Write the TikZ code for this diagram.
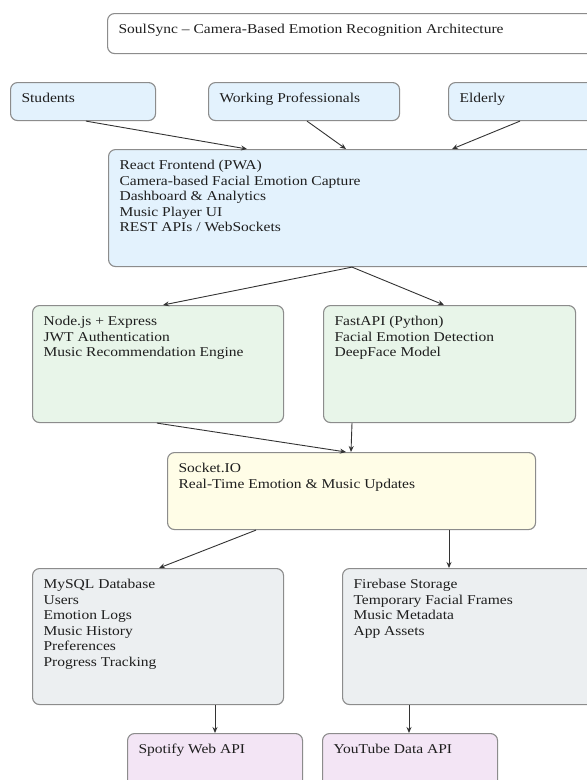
\documentclass[tikz,border=0pt]{standalone}
\usepackage{fontspec}
\setmainfont{Liberation Serif}[FakeStretch=1.15]
\usetikzlibrary{arrows.meta}
\definecolor{cblue}{HTML}{E3F2FD}
\definecolor{cgreen}{HTML}{E8F5E9}
\definecolor{cyellow}{HTML}{FFFDE7}
\definecolor{cgray}{HTML}{ECEFF1}
\definecolor{cpink}{HTML}{F3E5F5}
\definecolor{cborder}{HTML}{8C8C8C}
\definecolor{cedge}{HTML}{333333}
\definecolor{ctext}{HTML}{1E1E1E}
\newcommand{\boxtext}[3]{\parbox[c][#2pt][t]{\dimexpr #1pt-22pt\relax}{\raggedright\vspace*{9pt}\strut #3}}
\tikzset{
  box/.style={draw=cborder, line width=1.1pt, rounded corners=7pt, inner xsep=11pt, inner ysep=0pt, anchor=north west, text=ctext, font=\fontsize{13.5}{15.6}\selectfont},
  arr/.style={draw=cedge, line width=0.9pt, -{Stealth[length=6pt,width=5pt]}}
}
\begin{document}
\begin{tikzpicture}[x=1pt,y=-1pt]
\useasboundingbox (0,0) rectangle (587,780);
\clip (0,0) rectangle (587,780);
\fill[white] (0,0) rectangle (587,780);
\node[box, fill=white] (title) at (107,13) {\boxtext{503}{40}{SoulSync -- Camera-Based Emotion Recognition Architecture}};
\node[box, fill=cblue] (students) at (10,82) {\boxtext{145}{38}{Students}};
\node[box, fill=cblue] (wp) at (208,82) {\boxtext{191}{38}{Working Professionals}};
\node[box, fill=cblue] (elderly) at (448,82) {\boxtext{162}{38}{Elderly}};
\node[box, fill=cblue] (react) at (108,149) {\boxtext{502}{117}{React Frontend (PWA)\\Camera-based Facial Emotion Capture\\Dashboard \& Analytics\\Music Player UI\\REST APIs / WebSockets}};
\node[box, fill=cgreen] (nodejs) at (32,305) {\boxtext{251}{117}{Node.js + Express\\JWT Authentication\\Music Recommendation Engine}};
\node[box, fill=cgreen] (fastapi) at (323,305) {\boxtext{252}{117}{FastAPI (Python)\\Facial Emotion Detection\\DeepFace Model}};
\node[box, fill=cyellow] (socket) at (167,452) {\boxtext{368}{77}{Socket.IO\\Real-Time Emotion \& Music Updates}};
\node[box, fill=cgray] (mysql) at (32,568) {\boxtext{251}{136}{MySQL Database\\Users\\Emotion Logs\\Music History\\Preferences\\Progress Tracking}};
\node[box, fill=cgray] (firebase) at (342,568) {\boxtext{268}{136}{Firebase Storage\\Temporary Facial Frames\\Music Metadata\\App Assets}};
\node[box, fill=cpink] (spotify) at (127,733) {\boxtext{175}{70}{Spotify Web API}};
\node[box, fill=cpink] (youtube) at (322,733) {\boxtext{175}{70}{YouTube Data API}};
\draw[arr] ([xshift=76pt]students.south west) -- ([xshift=139pt]react.north west);
\draw[arr] ([xshift=99pt]wp.south west) -- ([xshift=238pt]react.north west);
\draw[arr] ([xshift=72pt]elderly.south west) -- ([xshift=344pt]react.north west);
\draw[arr] ([xshift=244pt]react.south west) -- ([xshift=131pt]nodejs.north west);
\draw[arr] ([xshift=244pt]react.south west) -- ([xshift=121pt]fastapi.north west);
\draw[arr] ([xshift=125pt]nodejs.south west) -- ([xshift=179pt]socket.north west);
\draw[arr] ([xshift=29pt]fastapi.south west) -- ([xshift=184pt]socket.north west);
\draw[arr] ([xshift=89pt]socket.south west) -- ([xshift=127pt]mysql.north west);
\draw[arr] ([xshift=282pt]socket.south west) -- ([xshift=107pt]firebase.north west);
\draw[arr] ([xshift=183pt]mysql.south west) -- ([xshift=88pt]spotify.north west);
\draw[arr] ([xshift=67pt]firebase.south west) -- ([xshift=87pt]youtube.north west);
\end{tikzpicture}
\end{document}
